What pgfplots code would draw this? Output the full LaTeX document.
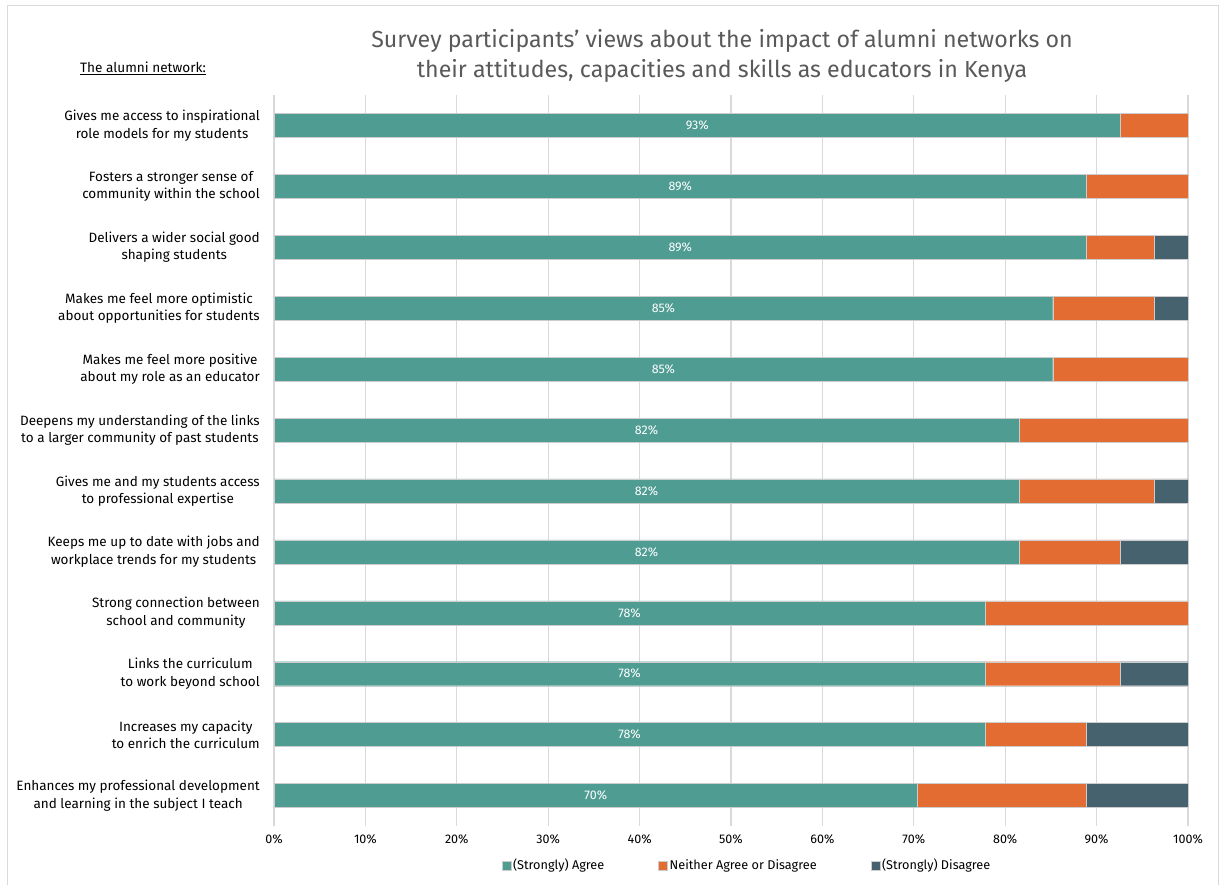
\documentclass[border=0pt]{standalone}
\usepackage{pgfplots}
\pgfplotsset{compat=1.18}
\usepackage{pgfplotstable}
\usepackage{fontspec}
\setmainfont{Fira Sans}
\definecolor{cagree}{HTML}{4E9C92}
\definecolor{cneither}{HTML}{E36C33}
\definecolor{cdis}{HTML}{46626F}
\definecolor{cgrid}{HTML}{D9D9D9}
\definecolor{ctitle}{HTML}{595959}

\pgfplotstableread{
idx agree neither dis lab
0 92.6 7.4 0.0 93\%
1 88.9 11.1 0.0 89\%
2 88.9 7.4 3.7 89\%
3 85.2 11.1 3.7 85\%
4 85.2 14.8 0.0 85\%
5 81.5 18.5 0.0 82\%
6 81.5 14.8 3.7 82\%
7 81.5 11.1 7.4 82\%
8 77.8 22.2 0.0 78\%
9 77.8 14.8 7.4 78\%
10 77.8 11.1 11.1 78\%
11 70.4 18.5 11.1 70\%
}\datatable

\pgfplotsset{
  common/.style={
    scale only axis,
    width=914pt, height=731pt,
    at={(274pt,59pt)}, anchor=south west,
    xmin=0, xmax=100,
    ymin=-0.5, ymax=11.5,
    y dir=reverse,
  }
}

\begin{document}
\begin{tikzpicture}[x=1pt,y=1pt]
\path[use as bounding box] (0,0) rectangle (1226,885);
\draw[cgrid, line width=0.8pt] (7,-5) rectangle (1218,880);

\node[font=\fontsize{23.2}{30}\selectfont, text=ctitle, align=center] at (722,829)
  {Survey participants' views about the impact of alumni networks on\\their attitudes, capacities and skills as educators in Kenya};
\node[font=\fontsize{13.6}{16}\selectfont] at (143,817) {\underline{The alumni network:}};

\begin{axis}[common,
  xbar stacked,
  bar width=24pt,
  axis line style={draw=none},
  major tick length=0pt,
  xmajorgrids,
  grid style={cgrid, line width=1.2pt},
  xtick={0,10,...,100},
  xticklabel={\pgfmathprintnumber{\tick}\%},
  /pgf/number format/assume math mode=true,
  xticklabel style={font=\fontsize{12.5}{14}\selectfont, yshift=-5pt},
  ytick={0,...,11},
  yticklabels={
    {Gives me access to inspirational\\role models for my students},
    {Fosters a stronger sense of\\community within the school},
    {Delivers a wider social good\\shaping students},
    {Makes me feel more optimistic\\about opportunities for students},
    {Makes me feel more positive\\about my role as an educator},
    {Deepens my understanding of the links\\to a larger community of past students},
    {Gives me and my students access\\to professional expertise},
    {Keeps me up to date with jobs and\\workplace trends for my students},
    {Strong connection between\\school and community},
    {Links the curriculum\\to work beyond school},
    {Increases my capacity\\to enrich the curriculum},
    {Enhances my professional development\\and learning in the subject I teach}},
  yticklabel style={align=center, font=\fontsize{13.5}{17.5}\selectfont, inner sep=0pt, xshift=-14pt},
  legend style={at={(rel axis cs:0.5175,0)}, anchor=north, yshift=-29pt, draw=none,
    font=\fontsize{12.7}{14}\selectfont, legend columns=3,
    /tikz/every even column/.append style={column sep=52pt}},
  legend image code/.code={\fill[#1] (0pt,-4.5pt) rectangle (9pt,4.5pt);},
]
\addplot[fill=cagree, draw=white!80!black, line width=0.4pt] table[x=agree, y=idx] {\datatable};
\addplot[fill=cneither, draw=white!80!black, line width=0.4pt] table[x=neither, y=idx] {\datatable};
\addplot[fill=cdis, draw=white!80!black, line width=0.4pt] table[x=dis, y=idx] {\datatable};
\legend{(Strongly) Agree, Neither Agree or Disagree, (Strongly) Disagree}
\end{axis}

\begin{axis}[common, hide axis]
\addplot[draw=none, mark=none, nodes near coords, point meta=explicit symbolic,
  nodes near coords style={text=white, anchor=center, font=\fontsize{12.5}{14}\selectfont}]
  table[x expr=\thisrow{agree}/2, y=idx, meta=lab] {\datatable};
\end{axis}
\end{tikzpicture}
\end{document}
